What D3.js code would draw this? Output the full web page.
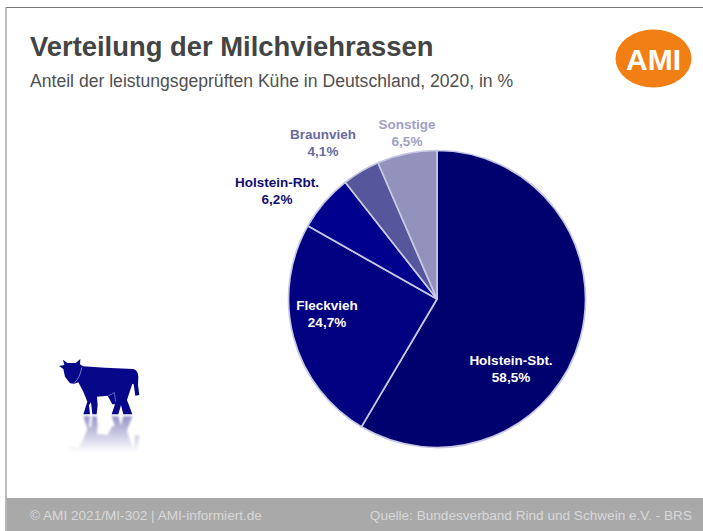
<!DOCTYPE html>
<html>
<head>
<meta charset="utf-8">
<script src="https://cdn.jsdelivr.net/npm/d3@7/dist/d3.min.js"></script>
<style>
    html, body { margin: 0; padding: 0; background: #fff; }
    svg { display: block; font-family: "Liberation Sans", Arial, sans-serif; }
</style>
</head>
<body>
<svg id="chart" width="703" height="531"></svg>
<script>
const categories = ['Holstein-Sbt.', 'Fleckvieh', 'Holstein-Rbt.', 'Braunvieh', 'Sonstige'];
const shares = [58.5, 24.7, 6.2, 4.1, 6.5];
const shareLabels = ['58,5%', '24,7%', '6,2%', '4,1%', '6,5%'];
const sliceColors = ['#00006e', '#000080', '#00008e', '#56569c', '#9292bc'];
const labelColors = ['#ffffff', '#ffffff', '#101070', '#6a6aa0', '#a0a0c4'];

const svg = d3.select('#chart');
const defs = svg.append('defs');

const reflection = defs.append('linearGradient')
    .attr('id', 'cow-fade')
    .attr('x1', 0).attr('y1', 1).attr('x2', 0).attr('y2', 0);
reflection.append('stop').attr('offset', 0).attr('stop-color', '#00007a').attr('stop-opacity', 0.42);
reflection.append('stop').attr('offset', 0.65).attr('stop-color', '#00007a').attr('stop-opacity', 0);

defs.append('filter').attr('id', 'soft')
    .append('feGaussianBlur').attr('stdDeviation', 0.35);
defs.append('filter').attr('id', 'softer')
    .append('feGaussianBlur').attr('stdDeviation', 3);

// frame
svg.append('path')
    .attr('d', 'M6,531V7.5H703')
    .attr('fill', 'none')
    .attr('stroke', '#777')
    .attr('stroke-width', 1);

// header
svg.append('text')
    .attr('x', 30).attr('y', 56)
    .attr('font-size', 27.4).attr('font-weight', 'bold').attr('fill', '#444')
    .text('Verteilung der Milchviehrassen');
svg.append('text')
    .attr('x', 30).attr('y', 87)
    .attr('font-size', 17.6).attr('fill', '#505050')
    .text('Anteil der leistungsgeprüften Kühe in Deutschland, 2020, in %');

// logo
svg.append('ellipse')
    .attr('cx', 653.5).attr('cy', 58.5).attr('rx', 38).attr('ry', 29)
    .attr('fill', '#f27f14');
svg.append('text')
    .attr('x', 653.5).attr('y', 70)
    .attr('text-anchor', 'middle')
    .attr('font-size', 30).attr('font-weight', 'bold').attr('fill', '#fff')
    .attr('textLength', 55).attr('lengthAdjust', 'spacingAndGlyphs')
    .text('AMI');

// pie
const pieCenter = [437, 299];
const radius = 148.5;
const pie = d3.pie().sort(null).value(d => d.share);
const arc = d3.arc().innerRadius(0).outerRadius(radius);
const slices = pie(categories.map((name, i) => ({ name, share: shares[i], label: shareLabels[i] })));

const pieLayer = svg.append('g')
    .attr('transform', `translate(${pieCenter})`)
    .attr('filter', 'url(#soft)');
pieLayer.selectAll('path')
    .data(slices)
    .join('path')
    .attr('d', arc)
    .attr('fill', (d, i) => sliceColors[i])
    .attr('stroke', '#c8c8e4')
    .attr('stroke-width', 1.7)
    .attr('stroke-linejoin', 'round');

// labels, center of the first line relative to the pie center
const labelOffsets = [[74, 66], [-110, 11], [-160, -112], [-114, -160], [-30, -170]];
const labels = svg.append('g')
    .attr('text-anchor', 'middle')
    .attr('font-size', 13.5)
    .attr('font-weight', 'bold');
slices.forEach((d, i) => {
    const x = pieCenter[0] + labelOffsets[i][0];
    const y = pieCenter[1] + labelOffsets[i][1];
    const label = labels.append('text').attr('fill', labelColors[i]);
    label.append('tspan').attr('x', x).attr('y', y).text(d.data.name);
    label.append('tspan').attr('x', x).attr('y', y + 16.5).text(d.data.label);
});

// cow icon, traced in zoomed coordinates
const cowPath = 'M12,33 L28,30 L24,14 L37,24 L62,24 L76,12 L75,28 L84,34 L150,38 L235,42 ' +
    'C245,45 249,52 250,65 L249,90 L253,120 L241,122 L236,88 L232,86 ' +
    'L216,135 L232,178 L205,178 L198,150 L190,178 L170,178 L180,148 ' +
    'L172,148 L158,122 L126,125 L128,150 L125,178 L112,178 L108,142 ' +
    'L102,150 L105,178 L85,178 L97,140 L85,110 L70,82 L58,86 L45,85 L30,65 L25,42 Z';
const cow = svg.append('g').attr('transform', 'translate(55,355) scale(0.3333)');
cow.append('path').attr('d', cowPath).attr('fill', '#07078a');
cow.append('path')
    .attr('d', 'M80,38 Q76,66 58,84')
    .attr('fill', 'none').attr('stroke', '#9090d0').attr('stroke-width', 2.5);
cow.append('path')
    .attr('d', 'M160,122 Q172,118 178,112 L182,140')
    .attr('fill', 'none').attr('stroke', '#9090d0').attr('stroke-width', 2);

// mirrored cow below the feet
const cowMirror = svg.append('g')
    .attr('transform', 'translate(55,355) scale(0.3333) translate(0,362) scale(1,-1)')
    .attr('filter', 'url(#softer)');
cowMirror.append('path')
    .attr('d', cowPath)
    .attr('fill', 'url(#cow-fade)');

// footer
svg.append('rect')
    .attr('x', 6.5).attr('y', 498).attr('width', 697).attr('height', 33)
    .attr('fill', '#a9a9a9');
svg.append('text')
    .attr('x', 30).attr('y', 520)
    .attr('font-size', 13.6).attr('fill', '#d8d8d8')
    .text('© AMI 2021/MI-302 | AMI-informiert.de');
svg.append('text')
    .attr('x', 692).attr('y', 520)
    .attr('text-anchor', 'end')
    .attr('font-size', 13.6).attr('fill', '#d8d8d8')
    .text('Quelle: Bundesverband Rind und Schwein e.V. - BRS');
</script>
</body>
</html>
